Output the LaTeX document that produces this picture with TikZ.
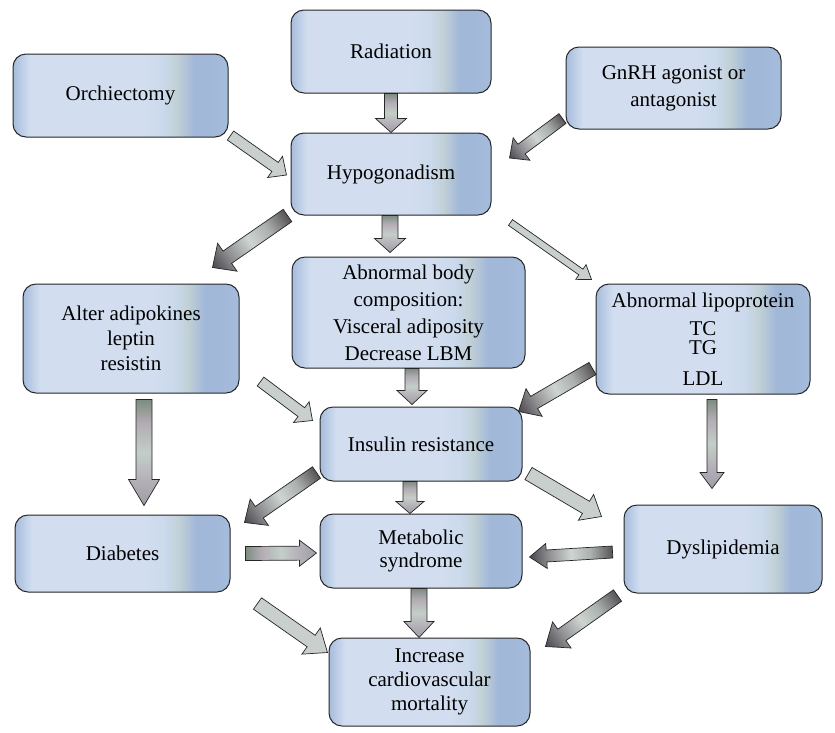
\documentclass[tikz,border=0pt]{standalone}
\usepackage{fontspec}
\setmainfont{Liberation Serif}
\usetikzlibrary{calc}

\definecolor{bxedge}{RGB}{166,188,220}
\definecolor{bxlight}{RGB}{210,222,240}
\definecolor{bxmid}{RGB}{202,217,235}
\definecolor{bxgrey}{RGB}{194,209,214}
\definecolor{bxblue}{RGB}{162,184,217}
\definecolor{arrflat}{RGB}{200,207,204}
\definecolor{arrdarkA}{RGB}{88,83,88}
\definecolor{arrdarkB}{RGB}{170,176,173}
\definecolor{arrdarkC}{RGB}{206,213,209}
\definecolor{arrdarkD}{RGB}{145,145,148}
\definecolor{arrdarkE}{RGB}{74,70,77}
\definecolor{arrvertA}{RGB}{125,140,128}
\definecolor{arrvertB}{RGB}{178,172,180}
\definecolor{arrvertC}{RGB}{196,206,200}
\definecolor{arrvertD}{RGB}{180,176,184}
\definecolor{arrvertE}{RGB}{160,156,166}

\pgfdeclarehorizontalshading{boxshade}{100bp}{color(0bp)=(bxedge); color(25bp)=(bxedge);
    color(29bp)=(bxlight); color(55bp)=(bxlight); color(60bp)=(bxmid); color(63bp)=(bxgrey);
    color(67bp)=(bxblue); color(71bp)=(bxblue); color(75bp)=(bxedge); color(100bp)=(bxedge)}
\pgfdeclarehorizontalshading{darkshade}{100bp}{color(0bp)=(arrdarkA); color(25bp)=(arrdarkA);
    color(38bp)=(arrdarkB); color(50bp)=(arrdarkC); color(63bp)=(arrdarkD); color(75bp)=(arrdarkE);
    color(100bp)=(arrdarkE)}
\pgfdeclarehorizontalshading{vertshade}{100bp}{color(0bp)=(arrvertA); color(25bp)=(arrvertA);
    color(36bp)=(arrvertB); color(50bp)=(arrvertC); color(63bp)=(arrvertD); color(75bp)=(arrvertE);
    color(100bp)=(arrvertE)}

\tikzset{arrow dims/.code args={#1/#2/#3}{\def\arrS{#1}\def\arrH{#2}\def\arrL{#3}}}

\newcommand{\fatarrow}[4][]{%
    \path (#3) coordinate (fa-t) (#4) coordinate (fa-h);
    \pgfpointdiff{\pgfpointanchor{fa-t}{center}}{\pgfpointanchor{fa-h}{center}}%
    \pgfgetlastxy{\fadx}{\fady}%
    \pgfmathsetmacro{\faang}{atan2(\fady,\fadx)}%
    \pgfmathsetmacro{\falen}{veclen(\fadx,\fady)}%
    \begin{scope}[transform canvas={shift={(fa-t)},rotate=\faang}]
        \path[fatarrow,#1,arrow dims=#2]
            (0,-\arrS/2) -- (\falen-\arrL,-\arrS/2) -- (\falen-\arrL,-\arrH/2) -- (\falen,0)
            -- (\falen-\arrL,\arrH/2) -- (\falen-\arrL,\arrS/2) -- (0,\arrS/2) -- cycle;
    \end{scope}}

\begin{document}
\begin{tikzpicture}[x=1pt,y=1pt]
    \tikzstyle{box}=[draw=black!85,line width=1pt,rounded corners=13pt,shade,shading=boxshade,
        align=center,inner sep=0pt,font=\fontsize{21}{25}\selectfont]
    \tikzstyle{fatarrow}=[draw=black!85,line width=0.7pt,line join=miter]
    \tikzstyle{flatarr}=[fill=arrflat]
    \tikzstyle{darkarr}=[shade,shading=darkshade]
    \tikzstyle{vertarr}=[shade,shading=vertshade]
    \useasboundingbox (0,0) rectangle (835,-732);

    \node[box,minimum width=200,minimum height=83] (rad) at (391,-51.5) {Radiation};
    \node[box,minimum width=215,minimum height=83] (orch) at (120.5,-95.5) {Orchiectomy};
    \node[box,minimum width=215,minimum height=82] (gnrh) at (673.5,-88) {GnRH agonist or\\[2pt]antagonist};
    \node[box,minimum width=200,minimum height=82] (hypo) at (391,-174) {Hypogonadism};
    \node[box,minimum width=216,minimum height=109] (alter) at (131,-338.5) {Alter adipokines\\leptin\\resistin};
    \node[box,minimum width=233,minimum height=111] (body) at (408.5,-312.5)
        {Abnormal body\\[2pt]composition:\\[2pt]Visceral adiposity\\[2pt]Decrease LBM};
    \node[box,minimum width=214,minimum height=110] (lipo) at (703,-339)
        {Abnormal lipoprotein\\[3pt]TC\\[-6pt]TG\\[6pt]LDL};
    \node[box,minimum width=202,minimum height=74] (ins) at (421,-444) {Insulin resistance};
    \node[box,minimum width=215,minimum height=77] (diab) at (122.5,-553.5) {Diabetes};
    \node[box,minimum width=202,minimum height=74] (meta) at (421,-551) {Metabolic\\[-2pt]syndrome};
    \node[box,minimum width=198,minimum height=88] (dysl) at (723,-549) {Dyslipidemia};
    \node[box,minimum width=201,minimum height=88] (mort) at (429.5,-682)
        {Increase\\[-1pt]cardiovascular\\[-1pt]mortality};

    \fatarrow[vertarr]{13/31/14}{rad.south}{hypo.north}
    \fatarrow[flatarr]{11/26/14}{[xshift=2,yshift=2]orch.south east}{[xshift=-4,yshift=-1]hypo.west}
    \fatarrow[darkarr]{12/28/15}{[xshift=-3,yshift=11]gnrh.south west}{[xshift=18,yshift=16]hypo.east}
    \fatarrow[darkarr]{15/34/18}{[xshift=-3]hypo.south west}{[xshift=-27,yshift=16]alter.north east}
    \fatarrow[vertarr]{16/31/14}{[xshift=-1]hypo.south}{[xshift=-18.5,yshift=4]body.north}
    \fatarrow[flatarr]{7/18/13}{[xshift=19,yshift=-7]hypo.south east}{[xshift=-4,yshift=4]lipo.north west}
    \fatarrow[vertarr]{14/30/14}{[xshift=3.5]body.south}{[xshift=-9,yshift=2]ins.north}
    \fatarrow[flatarr]{11/26/14}{[xshift=21,yshift=12]alter.south east}{[xshift=-7,yshift=-14]ins.north west}
    \fatarrow[darkarr]{14/32/18}{[xshift=-3,yshift=26]lipo.south west}{[xshift=-4,yshift=-5]ins.north east}
    \fatarrow[vertarr]{16/31/26}{[xshift=13,yshift=-6]alter.south}{[xshift=21.5,yshift=9]diab.north}
    \fatarrow[vertarr]{10/24/16}{[xshift=9,yshift=-5]lipo.south}{[xshift=-11,yshift=16]dysl.north}
    \fatarrow[darkarr]{14/32/18}{[xshift=-3,yshift=9]ins.south west}{[xshift=14,yshift=-8]diab.north east}
    \fatarrow[vertarr]{14/28/12}{[xshift=-11]ins.south}{[xshift=-11]meta.north}
    \fatarrow[flatarr]{14/30/18}{[xshift=6,yshift=8]ins.south east}{[xshift=-22,yshift=-12]dysl.north west}
    \fatarrow[vertarr]{14/26/17}{[xshift=15]diab.east}{[xshift=-3,yshift=-2]meta.west}
    \fatarrow[darkarr]{12/25/17}{[xshift=-11,yshift=-3]dysl.west}{[xshift=7,yshift=-6]meta.east}
    \fatarrow[vertarr]{16/30/16}{[xshift=-2]meta.south}{[xshift=-10.5]mort.north}
    \fatarrow[flatarr]{14/32/20}{[xshift=27,yshift=-11]diab.south east}{[xshift=-1,yshift=-15]mort.north west}
    \fatarrow[darkarr]{14/32/20}{[xshift=-6,yshift=-2]dysl.south west}{[xshift=15,yshift=-9]mort.north east}
\end{tikzpicture}
\end{document}
